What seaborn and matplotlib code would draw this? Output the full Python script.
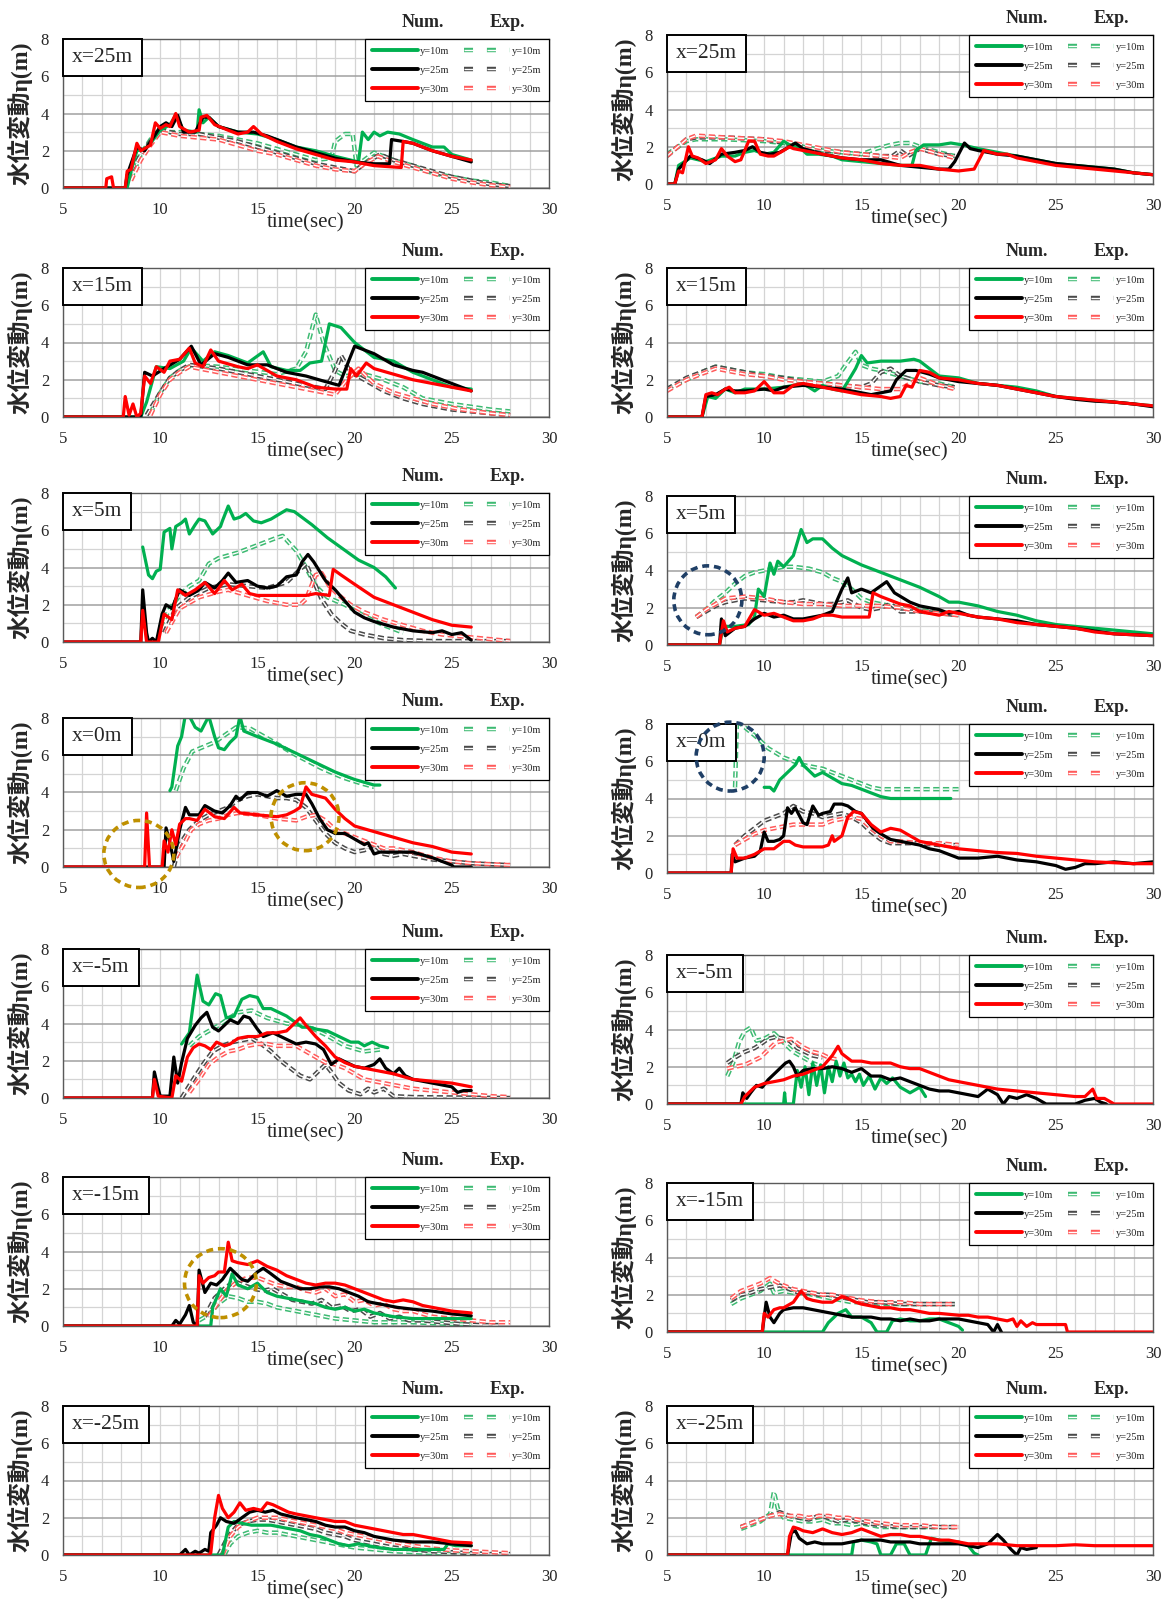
import pandas as pd
import seaborn as sns
import matplotlib.pyplot as plt
from matplotlib.lines import Line2D
from matplotlib.patches import Ellipse
from matplotlib.offsetbox import AnchoredText
from matplotlib.ticker import MultipleLocator

# ---- data: (time sec, water level m) ----
# left column, x=25m
L25_n10 = [(5,0),(8.3,0),(8.5,0.9),(8.8,2.0),(9.2,2.1),(9.5,2.4),(10,3.1),(10.5,3.4),(10.8,3.9),(11.2,3.1),(11.9,3.0),(12.0,4.2),(12.2,3.5),(12.5,3.8),(13,3.3),(14,3.0),(15,2.9),(16,2.6),(17,2.2),(18,2.0),(19,1.7),(20.2,1.4),(20.4,3.0),(20.7,2.6),(21,3.0),(21.3,2.8),(21.7,3.0),(22.3,2.9),(23,2.6),(24,2.2),(24.6,2.2),(25,1.8),(26,1.5)]
L25_n25 = [(5,0),(8.2,0),(8.3,0.7),(8.8,2.2),(9.2,2.0),(9.7,2.8),(10.0,3.3),(10.3,3.5),(10.6,3.3),(10.9,3.9),(11.2,3.0),(11.8,3.0),(12.2,3.8),(12.5,3.8),(13,3.3),(14,3.0),(14.8,3.0),(15.5,2.8),(16,2.6),(17,2.2),(18,1.9),(19,1.6),(20,1.4),(21,1.3),(21.8,1.3),(21.9,2.6),(22.5,2.5),(23,2.4),(24,2.0),(25,1.7),(26,1.4)]
L25_n30 = [(5,0),(7.2,0),(7.25,0.5),(7.5,0.6),(7.6,0),(8.2,0),(8.3,0.9),(8.5,1.0),(8.8,2.4),(9.0,2.0),(9.5,2.3),(9.75,3.5),(10.0,3.2),(10.3,3.4),(10.5,3.3),(10.8,4.0),(11.0,3.3),(11.5,3.0),(12.0,3.1),(12.1,3.8),(12.4,3.9),(12.8,3.4),(13.5,3.1),(14.0,2.9),(14.5,3.0),(14.8,3.3),(15.2,2.9),(16,2.5),(17,2.1),(18,1.8),(19,1.5),(20,1.4),(21,1.2),(22.4,1.1),(22.5,2.5),(23,2.4),(24,2.0),(25,1.7),(26,1.5)]
L25_e10 = [(8.5,0.5),(9,1.8),(9.5,2.6),(10,3.2),(10.5,3.0),(11,3.0),(12,2.9),(13,2.8),(14,2.6),(15,2.4),(16,2.1),(17,1.8),(18,1.5),(18.8,1.6),(19.0,2.5),(19.5,2.9),(19.9,2.9),(20.1,1.2),(21,1.9),(22,1.5),(23,1.2),(24,0.8),(25,0.6),(26,0.4),(27,0.3),(28,0.1)]
L25_e25 = [(8.3,0.5),(9,1.8),(9.5,2.5),(10,3.1),(11,2.9),(12,2.9),(13,2.7),(14,2.5),(15,2.2),(16,1.9),(17,1.6),(18,1.3),(19,1.1),(20,0.9),(20.5,1.3),(21.3,1.8),(22,1.5),(23,1.2),(24,0.9),(25,0.6),(26,0.4),(27,0.2),(28,0.1)]
L25_e30 = [(8.5,0.4),(9,1.5),(9.5,2.3),(10,3.0),(11,2.8),(12,2.7),(13,2.6),(14,2.3),(15,2.0),(16,1.8),(17,1.5),(18,1.2),(19,1.0),(20,0.9),(20.5,1.3),(21.2,1.7),(22,1.4),(23,1.1),(24,0.8),(25,0.5),(26,0.3),(27,0.15),(28,0.05)]

# right column, x=25m
R25_n10 = [(5,0),(5.4,0),(5.6,1.0),(6.2,1.4),(7,1.2),(7.8,1.5),(8.5,1.5),(9,1.7),(9.5,1.8),(10,1.6),(10.5,1.7),(11,2.3),(11.3,2.1),(11.8,2.0),(12.2,1.6),(12.8,1.6),(13.5,1.5),(14,1.3),(15,1.2),(16,1.1),(17,1.0),(17.6,1.0),(17.8,1.8),(18.2,2.1),(19,2.1),(19.6,2.2),(20.2,2.1),(21,1.9),(22,1.7),(23,1.5),(24,1.3),(25,1.1),(26,1.0),(27,0.9),(28,0.8),(29,0.6),(30,0.5)]
R25_n25 = [(5,0),(5.4,0),(5.6,0.8),(6.2,1.5),(6.8,1.3),(7.2,1.1),(7.8,1.6),(8.5,1.7),(9.0,1.8),(9.4,2.0),(9.8,1.7),(10.3,1.6),(10.8,1.7),(11.3,2.0),(11.6,2.2),(12,1.9),(13,1.6),(14,1.4),(15,1.3),(16,1.3),(17,1.0),(18,0.9),(19,0.8),(19.5,0.8),(19.8,1.2),(20.3,2.2),(20.6,1.9),(21,1.8),(22,1.6),(23,1.5),(24,1.3),(25,1.1),(26,1.0),(27,0.9),(28,0.8),(29,0.6),(30,0.5)]
R25_n30 = [(5,0),(5.4,0),(5.6,0.7),(5.8,0.6),(6.1,2.0),(6.3,1.5),(6.6,1.4),(7,1.1),(7.5,1.3),(7.8,1.9),(8.1,1.5),(8.5,1.2),(8.8,1.3),(9.2,2.3),(9.5,2.3),(9.8,1.6),(10.2,1.5),(10.5,1.5),(11,1.8),(11.3,2.0),(11.5,1.9),(12,1.8),(13,1.6),(14,1.4),(15,1.3),(16,1.1),(17,1.0),(18,1.0),(19,0.8),(20,0.7),(20.8,0.8),(21.0,1.2),(21.3,1.8),(22,1.6),(22.5,1.6),(23,1.4),(24,1.2),(25,1.0),(26,0.9),(27,0.8),(28,0.7),(29,0.6),(30,0.5)]
R25_e10 = [(5,1.6),(6,2.3),(6.5,2.4),(8,2.4),(10,2.3),(11,2.2),(12,2.0),(13,1.8),(14,1.7),(15,1.6),(15.8,1.9),(16.5,2.1),(17,2.2),(17.5,2.2),(18,2.0),(19,1.7),(19.8,1.5)]
R25_e25 = [(5,1.5),(6,2.4),(6.5,2.5),(8,2.5),(10,2.4),(11,2.2),(12,2.0),(13,1.8),(14,1.7),(15,1.6),(16,1.5),(16.6,1.5),(17,1.8),(17.4,1.5),(18,1.9),(19,1.6),(19.8,1.5)]
R25_e30 = [(5,1.5),(6,2.4),(6.5,2.6),(8,2.5),(10,2.4),(11,2.3),(12,2.1),(13,1.9),(14,1.7),(15,1.6),(16,1.5),(17,1.4),(17.5,1.7),(18,1.9),(19,1.6),(19.8,1.4)]

# left, x=15m
L15_n10 = [(5,0),(9.0,0),(9.3,0.8),(9.8,2.7),(10.5,2.6),(11.2,3.0),(11.6,3.7),(12.2,3.0),(12.8,3.5),(13.5,3.3),(14.5,2.9),(15.3,3.5),(15.7,2.7),(16.5,2.5),(17.2,2.5),(17.7,2.9),(18.3,3.0),(18.7,5.0),(19.3,4.8),(20,4.0),(21,3.2),(22,3.0),(23,2.4),(24,2.0),(25,1.6),(26,1.5)]
L15_n25 = [(5,0),(9.0,0),(9.2,2.4),(9.6,2.2),(10.2,2.6),(11,3.1),(11.6,3.8),(12.1,2.8),(12.8,3.4),(13.5,3.2),(14.5,2.8),(15.5,2.8),(16.5,2.4),(17.5,2.2),(18.5,1.9),(19.2,1.7),(20,3.8),(21,3.4),(22,2.8),(23,2.5),(23.5,2.4),(24.5,2.0),(25.5,1.6),(26,1.4)]
L15_n30 = [(5,0),(8.1,0),(8.2,1.1),(8.4,0.1),(8.6,0.7),(8.8,0),(9.0,0.2),(9.2,2.2),(9.5,1.8),(9.8,2.7),(10.2,2.4),(10.5,3.0),(11.0,3.1),(11.5,3.7),(11.8,2.9),(12.2,2.7),(12.6,3.6),(13,3.0),(14,2.7),(14.5,2.6),(15,2.8),(15.5,2.5),(16,2.2),(17,2.0),(18,1.6),(19,1.5),(19.6,1.5),(19.8,2.6),(20.1,2.2),(20.6,2.9),(21,2.6),(22,2.3),(23,2.0),(24,1.8),(25,1.6),(26,1.4)]
L15_e10 = [(9.5,0.2),(10,1.3),(10.5,2.1),(11,2.5),(11.7,2.8),(13,2.7),(14.5,2.5),(16,2.3),(17,2.6),(17.5,3.5),(18.0,5.5),(18.4,4.0),(19,2.5),(19.5,2.2),(20.5,2.3),(21.5,2.0),(22.5,1.6),(23.5,1.0),(25,0.7),(27,0.4),(28,0.3)]
L15_e25 = [(9.3,0.1),(10,1.3),(10.5,2.1),(11,2.5),(11.5,2.8),(13,2.6),(14.5,2.3),(16,2.0),(17.5,1.7),(18.5,1.5),(19.0,2.5),(19.3,3.3),(19.8,2.4),(20.5,2.0),(21.5,1.4),(22.5,1.0),(23.5,0.7),(25,0.4),(27,0.2),(28,0.1)]
L15_e30 = [(9.5,0.1),(10,1.2),(10.5,2.0),(11,2.4),(11.5,2.7),(13,2.4),(14.5,2.1),(16,1.8),(17.5,1.5),(19,1.2),(19.6,2.0),(20.2,2.6),(21,1.8),(22,1.3),(23,1.0),(24,0.7),(25.5,0.4),(27,0.2),(28,0.1)]

# right, x=15m
R15_n10 = [(5,0),(6.8,0),(7.1,1.1),(7.5,1.0),(8,1.5),(8.5,1.3),(9,1.5),(10,1.5),(11,1.6),(12,1.8),(12.6,1.4),(13,1.7),(13.5,1.5),(14,1.4),(14.3,1.9),(14.7,2.6),(15,3.3),(15.3,2.9),(16,3.0),(17,3.0),(17.7,3.1),(18,3.0),(19,2.2),(20,2.1),(21,1.8),(22,1.7),(23,1.6),(24,1.4),(25,1.1),(26,1.0),(27,0.9),(28,0.8),(29,0.7),(30,0.6)]
R15_n25 = [(5,0),(6.8,0),(7.0,1.1),(7.5,1.2),(8,1.5),(8.5,1.4),(9,1.4),(10,1.5),(10.5,1.4),(11,1.6),(12,1.7),(13,1.6),(14,1.5),(15,1.3),(15.5,1.2),(16,1.3),(16.5,1.4),(16.8,2.0),(17.3,2.5),(17.8,2.5),(18.5,2.3),(19,2.1),(20,1.9),(21,1.8),(22,1.7),(23,1.5),(24,1.3),(25,1.1),(26,0.95),(27,0.85),(28,0.8),(29,0.7),(30,0.55)]
R15_n30 = [(5,0),(6.8,0),(7.0,1.2),(7.3,1.3),(7.6,1.2),(8,1.5),(8.2,1.6),(8.5,1.3),(9,1.3),(9.5,1.4),(10,1.9),(10.5,1.3),(11,1.3),(11.5,1.7),(12,1.8),(13,1.6),(14,1.4),(15,1.2),(16,1.1),(16.5,1.0),(17,1.1),(17.3,1.7),(17.6,1.6),(18,2.5),(18.5,2.4),(19,2.1),(20,2.0),(21,1.8),(22,1.7),(23,1.5),(24,1.3),(25,1.1),(26,1.0),(27,0.9),(28,0.8),(29,0.7),(30,0.6)]
R15_e10 = [(5,1.5),(6,2.0),(7,2.5),(7.5,2.7),(9,2.4),(10,2.3),(11,2.1),(12,2.0),(13,1.9),(13.8,2.2),(14.2,2.8),(14.7,3.5),(15,2.8),(15.5,2.6),(16,2.5),(17,2.2),(18,1.9),(19,1.8),(19.8,1.6)]
R15_e25 = [(5,1.5),(6,2.1),(7,2.5),(7.5,2.7),(9,2.4),(10,2.2),(11,2.1),(12,1.9),(13,1.8),(14,1.7),(15,1.6),(15.5,1.8),(16,2.4),(16.5,2.6),(17,2.2),(18,1.9),(19,1.7),(19.8,1.6)]
R15_e30 = [(5,1.4),(6,2.0),(7,2.4),(7.5,2.6),(9,2.3),(10,2.2),(11,2.0),(12,1.9),(13,1.8),(14,1.7),(15,1.6),(16,1.5),(17,1.5),(17.5,1.8),(18,2.1),(18.5,1.9),(19,1.7),(19.8,1.5)]

# left, x=5m
L5_n10 = [(9.1,5.1),(9.4,3.6),(9.6,3.4),(9.8,3.8),(10.0,3.9),(10.2,5.9),(10.5,6.1),(10.6,5.0),(10.8,6.2),(11.1,6.4),(11.3,6.6),(11.5,5.8),(11.8,6.3),(12.0,6.6),(12.3,6.5),(12.7,5.8),(13.1,6.2),(13.2,6.5),(13.5,7.3),(13.8,6.6),(14.1,6.7),(14.4,6.9),(14.8,6.5),(15.2,6.4),(15.7,6.6),(16.5,7.1),(16.9,7.0),(17.8,6.3),(18.6,5.6),(19.4,5.0),(20.2,4.4),(21.0,4.0),(21.6,3.5),(22.1,2.9)]
L5_n25 = [(5,0),(9.0,0),(9.1,2.8),(9.3,0.5),(9.4,0),(9.6,0.2),(9.8,0),(10.1,1.5),(10.3,2.0),(10.6,1.8),(11,2.8),(11.5,2.5),(12,2.8),(12.3,3.2),(12.8,2.9),(13.2,3.3),(13.5,3.7),(13.9,3.2),(14.5,3.3),(15,3.0),(15.5,2.9),(16,3.0),(16.5,3.5),(17,3.6),(17.3,4.3),(17.6,4.7),(17.9,4.3),(18.5,3.3),(19,2.8),(19.5,2.2),(20,1.6),(20.5,1.3),(21,1.1),(22,0.8),(23,0.6),(24,0.5),(24.5,0.6),(25,0.4),(25.5,0.5),(26,0.1)]
L5_n30 = [(5,0),(9.0,0),(9.1,1.7),(9.3,0),(9.9,0),(10.2,1.5),(10.6,1.2),(10.9,2.8),(11.3,2.5),(11.8,2.8),(12.3,3.2),(12.8,2.6),(13.3,3.3),(13.7,2.8),(14.2,3.1),(14.6,2.6),(15,2.5),(15.5,2.5),(16.5,2.5),(17.5,2.5),(18,2.6),(18.7,2.5),(18.9,3.9),(19.3,3.6),(20,3.1),(21,2.4),(22,2.0),(23,1.6),(24,1.2),(25,0.9),(26,0.8)]
L5_e10 = [(10,0.8),(10.5,1.8),(11,2.5),(11.5,3.0),(12,3.3),(12.5,4.2),(13,4.5),(14,4.8),(15,5.2),(16,5.6),(16.3,5.7),(17,4.9),(17.5,4.0),(18,3.0),(18.6,2.4),(19.5,2.0),(20.5,1.4),(21.5,0.9),(22.5,0.5)]
L5_e25 = [(10.2,0.5),(10.8,1.8),(11.5,2.4),(12.5,2.9),(13.5,3.1),(14.5,3.0),(15.5,2.9),(16.5,3.2),(17.2,3.9),(17.5,4.2),(17.8,3.5),(18.3,2.3),(18.8,1.5),(19.3,1.0),(19.8,0.6),(20.5,0.4),(21.5,0.2),(22.5,0.1),(24,0.05),(26,0.05),(28,0.05)]
L5_e30 = [(10.3,0.5),(11,1.8),(12,2.4),(13,2.7),(13.5,2.8),(14.5,2.5),(15.5,2.2),(16.5,2.0),(17.2,2.0),(17.5,2.3),(18,3.6),(18.3,3.7),(18.7,3.0),(19.2,2.5),(19.8,2.0),(20.5,1.6),(21.5,1.2),(22.5,0.9),(23.5,0.6),(24.5,0.4),(25.5,0.3),(26.5,0.2),(27.5,0.1),(28,0.05)]

# right, x=5m
R5_n10 = [(5,0),(7.7,0),(7.9,1.0),(8.5,1.0),(9.2,1.1),(9.5,1.5),(9.7,3.0),(10.0,2.6),(10.3,4.4),(10.5,3.8),(10.7,4.5),(11,4.2),(11.5,4.8),(11.9,6.2),(12.2,5.5),(12.5,5.7),(13,5.7),(13.5,5.2),(14,4.8),(15,4.3),(16,3.9),(17,3.5),(18,3.1),(19,2.6),(19.5,2.3),(20,2.3),(21,2.1),(22,1.8),(23,1.6),(24,1.3),(25,1.1),(26,1.0),(27,0.9),(28,0.8),(29,0.7),(30,0.6)]
R5_n25 = [(5,0),(7.7,0),(7.8,1.4),(8.0,0.5),(8.5,0.9),(9,1.0),(9.5,1.4),(10,1.7),(10.5,1.5),(11,1.6),(11.5,1.4),(12,1.4),(12.5,1.5),(13,1.6),(13.5,1.8),(14,3.0),(14.3,3.6),(14.5,2.8),(15,3.0),(15.5,2.8),(16.3,3.4),(16.7,2.8),(17.5,2.3),(18,2.1),(19,1.9),(19.5,1.7),(20,1.8),(20.5,1.6),(21,1.5),(22,1.4),(23,1.3),(24,1.1),(25,1.0),(26,0.9),(27,0.75),(28,0.6),(29,0.55),(30,0.5)]
R5_n30 = [(5,0),(7.7,0),(7.9,1.3),(8.1,0.7),(8.5,0.9),(9.0,1.0),(9.5,1.9),(10,1.6),(10.5,1.7),(11,1.5),(11.5,1.3),(12,1.3),(12.5,1.4),(13,1.6),(13.5,1.6),(14,1.5),(15,1.5),(15.4,1.5),(15.6,2.8),(16,2.6),(16.5,2.4),(17,2.2),(17.5,2.1),(18,1.8),(19,1.6),(19.5,1.8),(20,1.7),(21,1.5),(22,1.4),(23,1.2),(24,1.1),(25,1.0),(26,0.9),(27,0.7),(28,0.6),(29,0.55),(30,0.5)]
R5_e10 = [(6.5,1.5),(7,1.9),(7.5,2.4),(8,2.8),(8.5,3.3),(9,3.7),(9.5,3.9),(10,4.0),(10.5,4.1),(11,4.2),(11.5,4.2),(12.3,4.1),(13,3.9),(13.5,3.6),(14,3.4),(14.5,3.0),(15,2.5),(15.5,2.3),(16,2.2),(17,2.0),(18,1.9),(19,1.7),(20,1.6)]
R5_e25 = [(6.5,1.5),(7,1.8),(7.5,2.1),(8,2.3),(8.5,2.4),(9,2.5),(10,2.4),(11,2.3),(11.5,2.3),(12,2.4),(12.5,2.3),(13,2.2),(13.5,2.2),(14,2.3),(14.3,2.4),(15,2.0),(15.5,1.9),(16,2.0),(16.5,2.2),(17,1.8),(18,1.8),(19,1.7),(20,1.6)]
R5_e30 = [(6.5,1.5),(7,1.9),(7.5,2.2),(8,2.5),(9,2.6),(10,2.5),(11,2.3),(12,2.2),(13,2.2),(14,2.1),(15,2.1),(16,2.1),(17,2.0),(18,1.8),(19,1.7),(20,1.6)]

# left, x=0m
L0_n10 = [(10.5,4.1),(10.6,4.3),(10.9,6.5),(11.1,7.0),(11.3,8.2),(11.5,8.1),(11.8,7.5),(12.1,7.3),(12.5,8.1),(12.8,7.0),(13.0,6.4),(13.3,6.3),(13.6,6.7),(13.9,7.0),(14.1,8.1),(14.3,7.3),(15,7.0),(16,6.6),(17,6.1),(18,5.6),(19,5.1),(20,4.7),(21,4.4),(21.3,4.4)]
L0_n25 = [(5,0),(10.2,0),(10.3,2.1),(10.5,1.3),(10.7,0.3),(11.0,2.0),(11.2,2.8),(11.3,3.2),(11.5,2.8),(12,2.8),(12.3,3.3),(12.8,3.0),(13.2,2.9),(13.6,3.3),(13.9,3.8),(14.1,3.6),(14.5,4.0),(15,4.0),(15.5,3.8),(16,4.1),(16.5,3.8),(17,3.9),(17.5,3.9),(17.8,3.4),(18.2,2.6),(18.6,2.0),(19,1.8),(19.5,1.8),(20,1.5),(20.5,1.2),(20.7,1.3),(21,0.7),(21.3,0.8),(22,0.8),(22.5,0.8),(23,0.8),(24,0.5),(24.5,0.3),(25,0.1),(25.1,0.0),(26,0.0)]
L0_n30 = [(5,0),(9.2,0),(9.3,2.9),(9.45,0),(10.1,0),(10.2,1.4),(10.4,0.8),(10.6,2.0),(10.8,1.2),(11.0,2.3),(11.3,2.6),(11.5,2.6),(11.9,2.5),(12.3,3.1),(12.8,2.7),(13.3,2.6),(13.8,3.2),(14.1,2.9),(15,2.8),(16,2.7),(16.5,2.8),(16.9,3.0),(17.2,3.2),(17.5,4.3),(17.8,3.9),(18.5,3.7),(19,3.1),(19.5,2.6),(20,2.2),(21,1.9),(22,1.6),(23,1.3),(24,1.1),(25,0.8),(26,0.7)]
L0_e10 = [(10.8,4.1),(11.2,5.3),(11.65,6.2),(12.8,6.7),(13.9,7.5),(14.6,7.45),(15.7,6.8),(17,6.0),(18.3,5.3),(19.4,4.8),(20.3,4.5),(21,4.3)]
L0_e25 = [(10.7,0.0),(11,1.2),(11.5,2.0),(12,2.5),(12.5,2.8),(13,3.0),(13.5,3.2),(14,3.6),(14.5,3.8),(15,3.9),(15.5,3.8),(16,3.7),(16.5,3.7),(17,3.6),(17.5,3.2),(18,2.5),(18.5,1.8),(19,1.3),(19.5,1.0),(20,0.8),(20.5,0.9),(21,1.2),(21.5,0.7),(22,0.6),(22.5,0.7),(23,0.6),(24,0.4),(25,0.3),(26,0.2),(27,0.15),(28,0.1)]
L0_e30 = [(10.8,0.5),(11.2,1.2),(11.6,2.0),(12,2.3),(12.5,2.5),(13,2.6),(13.5,2.8),(14,2.9),(15,2.8),(16,2.6),(17,2.5),(17.5,2.7),(18,2.8),(18.5,2.5),(19,2.0),(19.5,1.8),(20,1.6),(21,1.2),(21.5,1.0),(22,1.0),(22.5,0.9),(23,0.8),(24,0.5),(25,0.3),(26,0.2),(27,0.15),(28,0.1)]

# right, x=0m
R0_n10 = [(10,4.6),(10.3,4.6),(10.5,4.4),(10.8,5.0),(11,5.2),(11.3,5.5),(11.6,5.8),(11.8,6.2),(12.0,5.8),(12.3,5.5),(12.6,5.2),(13,5.4),(13.5,5.1),(14,4.8),(14.5,4.7),(15,4.5),(15.5,4.3),(16,4.1),(16.5,4.0),(17,4.0),(18,4.0),(19,4.0),(19.6,4.0)]
R0_n25 = [(5,0),(8.3,0),(8.35,1.0),(8.5,0.6),(9,0.8),(9.5,0.9),(9.8,1.2),(10,2.2),(10.2,1.7),(10.5,1.7),(10.8,1.8),(11.0,2.0),(11.2,3.5),(11.4,3.2),(11.6,3.5),(11.8,3.1),(12.0,2.7),(12.2,2.6),(12.5,3.6),(12.8,3.1),(13,3.2),(13.4,3.3),(13.6,3.7),(14,3.7),(14.3,3.6),(14.7,3.3),(15,3.2),(15.3,2.8),(15.6,2.4),(16,2.1),(16.5,1.8),(17,1.7),(17.5,1.6),(18,1.5),(18.5,1.3),(19,1.2),(19.5,1.0),(20,0.8),(21,0.8),(22,0.9),(23,0.7),(24,0.6),(25,0.4),(25.5,0.2),(26,0.3),(26.5,0.5),(27,0.5),(28,0.6),(29,0.5),(30,0.6)]
R0_n30 = [(5,0),(8.3,0),(8.4,1.3),(8.6,0.8),(9,0.8),(9.5,1.0),(10,1.3),(10.5,1.3),(11,1.7),(11.3,1.7),(11.6,1.5),(12,1.4),(12.5,1.4),(13,1.4),(13.3,1.5),(13.5,2.0),(13.6,1.7),(14,2.0),(14.3,3.0),(14.6,3.3),(15,3.2),(15.5,2.6),(16,2.2),(16.5,2.4),(17,2.3),(17.5,2.0),(18,1.7),(18.5,1.6),(19,1.5),(20,1.3),(21,1.2),(22,1.1),(23,1.05),(24,0.9),(25,0.8),(26,0.7),(27,0.6),(28,0.55),(29,0.5),(30,0.5)]
R0_e10 = [(8.5,4.6),(8.6,8.2),(8.8,8.0),(9.6,7.3),(10.2,6.7),(11,6.2),(12,5.8),(13,5.6),(14,5.2),(15,4.8),(15.5,4.6),(16,4.5),(20,4.5)]
R0_e25 = [(8.5,1.5),(9,2.0),(9.5,2.4),(10,2.8),(10.5,3.0),(11,3.2),(11.5,3.6),(12,3.3),(12.5,3.2),(13,3.0),(13.5,3.1),(14,3.2),(14.5,3.0),(15,2.7),(15.5,2.2),(16,1.8),(16.5,1.6),(17,1.6),(18,1.6),(19,1.5),(20,1.5)]
R0_e30 = [(8.5,1.5),(9,1.8),(9.5,2.1),(10,2.3),(10.5,2.4),(11,2.5),(11.5,2.6),(12,2.6),(12.5,2.6),(13,2.6),(13.5,2.8),(14,2.9),(14.5,3.0),(15,2.9),(15.5,2.4),(16,2.0),(16.5,1.7),(17,1.7),(18,1.6),(19,1.6),(20,1.5)]

# left, x=-5m
Lm5_n10 = [(11.1,2.9),(11.5,3.5),(11.9,6.6),(12.2,5.2),(12.5,5.0),(12.85,5.6),(13.1,5.5),(13.4,4.3),(13.8,4.4),(14.2,5.3),(14.6,5.5),(15,5.4),(15.3,4.8),(15.7,4.8),(16.1,4.6),(16.5,4.4),(16.9,4.1),(17.3,3.8),(17.7,3.8),(18.0,3.7),(18.6,3.6),(19.2,3.3),(19.8,3.0),(20.2,3.0),(20.5,2.8),(20.9,3.0),(21.3,2.8),(21.7,2.7)]
Lm5_n25 = [(5,0),(9.6,0),(9.7,1.4),(9.9,0.5),(10,0.1),(10.5,0.1),(10.7,2.2),(10.9,0.8),(11.1,1.9),(11.4,3.2),(11.8,3.9),(12.1,4.3),(12.4,4.6),(12.7,3.8),(13,3.6),(13.3,3.9),(13.6,4.2),(14,4.0),(14.3,4.4),(14.6,4.3),(15,3.7),(15.3,3.3),(15.8,3.5),(16.2,3.3),(16.6,3.1),(17,2.9),(17.5,3.0),(18,2.9),(18.4,2.6),(18.8,1.8),(19.2,2.1),(19.6,1.9),(20,1.7),(20.5,1.6),(21,1.8),(21.3,2.1),(21.6,1.6),(22,1.3),(22.3,1.6),(22.6,1.2),(23,1.0),(24,0.8),(25,0.6),(25.3,0.3),(25.6,0.4),(26,0.4)]
Lm5_n30 = [(5,0),(9.6,0),(9.7,1.0),(9.9,0.1),(10.6,0),(10.8,1.2),(11.1,0.9),(11.4,2.2),(11.7,2.7),(12,2.9),(12.3,2.8),(12.6,2.6),(12.9,3.0),(13.3,2.8),(13.6,2.9),(14,3.2),(14.5,3.3),(15,3.3),(15.5,3.5),(16,3.5),(16.5,3.6),(17.0,4.1),(17.2,4.3),(17.5,3.9),(18,3.3),(18.5,2.8),(19,2.2),(19.5,1.9),(20,1.7),(21,1.5),(22,1.3),(23,1.0),(24,0.9),(25,0.8),(26,0.6)]
Lm5_e10 = [(11.5,2.8),(12,3.3),(13,3.9),(14,4.6),(14.7,4.7),(15.5,4.3),(16.5,4.0),(17.5,3.9),(18.5,3.4),(19.5,2.8),(20.5,2.5),(21.3,2.6)]
Lm5_e25 = [(11.1,0.0),(11.7,1.0),(12.2,1.8),(12.7,2.5),(13.2,2.8),(13.7,3.0),(14.2,3.1),(14.7,3.2),(15.2,2.9),(15.7,2.5),(16.2,2.0),(16.7,1.6),(17.2,1.2),(17.7,1.0),(18,1.3),(18.5,1.8),(18.8,1.4),(19.2,0.8),(19.7,0.4),(20.3,0.2),(20.7,0.5),(21,0.3),(21.5,0.5),(22,0.1),(23,0.05),(28,0.0)]
Lm5_e30 = [(11.5,0.3),(12,1.0),(12.5,1.8),(13,2.2),(13.5,2.5),(14,2.6),(14.5,2.8),(15,2.9),(15.5,2.9),(16,2.8),(17,2.8),(17.5,2.5),(18,2.2),(18.5,1.9),(19,1.8),(19.5,1.6),(20,1.3),(20.5,1.0),(21,0.9),(21.5,0.8),(22,0.7),(23,0.5),(24,0.4),(25,0.3),(26,0.2),(27,0.1),(28,0.05)]

# right, x=-5m
Rm5_n10 = [(5,0),(11.0,0),(11.05,0.6),(11.1,0),(11.5,0),(11.7,1.8),(11.9,0.9),(12.1,2.0),(12.3,0.5),(12.5,2.2),(12.7,1.0),(12.9,2.1),(13.1,0.6),(13.3,2.0),(13.5,1.2),(13.7,2.3),(13.9,1.5),(14.1,2.2),(14.3,1.4),(14.5,1.6),(14.7,1.2),(14.9,1.6),(15.1,1.0),(15.4,1.5),(15.7,0.8),(16,1.4),(16.3,1.1),(16.6,1.4),(17,0.9),(17.5,0.6),(18,0.9),(18.3,0.4)]
Rm5_n25 = [(5,0),(8.8,0),(8.9,0.6),(9.1,0.3),(9.3,0.6),(9.6,1.0),(9.9,0.9),(10.2,1.3),(10.5,1.6),(10.8,1.9),(11.1,2.2),(11.3,2.3),(11.5,2.0),(11.7,1.5),(12,1.8),(12.5,1.9),(13,1.9),(13.5,2.0),(14,1.9),(14.5,1.7),(15,1.9),(15.5,1.5),(16,1.5),(16.5,1.3),(17,1.4),(17.5,1.2),(18,1.0),(18.5,0.8),(19,0.7),(19.5,0.7),(20,0.6),(20.5,0.5),(21,0.4),(21.5,0.8),(22,0.5),(22.3,0.0),(22.6,0.4),(23,0.3),(23.5,0.5),(24,0.3),(24.5,0.0),(26,0.0),(26.5,0.2),(27,0.3),(27.3,0.1),(27.6,0.0)]
Rm5_n30 = [(5,0),(8.8,0),(9,0.4),(9.5,0.9),(10,1.1),(10.5,1.2),(11,1.3),(11.5,1.5),(12,1.6),(12.5,1.8),(13,2.0),(13.5,2.6),(13.8,3.1),(14,2.7),(14.5,2.3),(15,2.3),(15.5,2.2),(16,2.2),(16.5,2.2),(17,2.0),(17.5,1.9),(18,1.9),(18.5,1.7),(19,1.5),(19.5,1.3),(20,1.2),(20.5,1.1),(21,1.0),(21.5,0.9),(22,0.8),(23,0.7),(24,0.6),(25,0.5),(26,0.4),(26.5,0.4),(26.9,0.8),(27.1,0.3),(27.5,0.3),(28,0.0),(30,0.0)]
Rm5_e10 = [(8.1,1.5),(8.4,2.2),(8.7,3.3),(9.0,3.9),(9.3,4.1),(9.6,3.4),(10.0,3.5),(10.5,3.8),(11.0,3.3),(11.5,2.8),(12.0,2.5),(12.5,2.2),(13.0,2.0)]
Rm5_e25 = [(8.1,2.2),(8.5,2.5),(9.0,2.8),(9.5,3.0),(9.8,3.2),(10.2,3.5),(10.6,3.6),(11.0,3.5),(11.3,3.4),(11.7,3.0),(12.1,2.8),(12.5,2.6),(13.0,2.5)]
Rm5_e30 = [(8.1,1.9),(8.5,2.0),(9.0,2.1),(9.4,2.3),(9.8,2.5),(10.2,2.9),(10.6,3.3),(11.0,3.4),(11.4,3.5),(11.8,3.2),(12.1,3.0),(12.5,2.8),(12.9,2.7),(13.3,2.5),(13.7,2.4)]

# left, x=-15m
Lm15_n10 = [(5,0),(12.6,0),(12.7,1.0),(12.9,1.5),(13.1,2.0),(13.4,1.6),(13.7,2.8),(14,2.2),(14.5,2.0),(15,2.3),(15.5,1.8),(16,1.6),(16.5,1.5),(17,1.4),(17.5,1.3),(18,1.2),(18.5,1.0),(19,0.9),(19.5,1.0),(20,0.8),(20.5,0.9),(21,0.7),(22,0.5),(23,0.4),(24,0.4),(25,0.4),(26,0.4)]
Lm15_n25 = [(5,0),(10.6,0),(10.8,0.3),(11.0,0.1),(11.3,0.6),(11.5,1.1),(11.7,0.2),(11.9,0.0),(12.0,3.0),(12.3,1.8),(12.6,2.3),(12.9,2.2),(13.2,2.5),(13.6,3.1),(13.9,2.8),(14.2,2.5),(14.5,2.4),(15,2.9),(15.3,3.1),(15.7,2.8),(16.2,2.4),(16.7,2.2),(17.2,2.0),(17.7,2.0),(18.2,2.1),(18.7,2.1),(19.2,2.0),(19.7,1.8),(20.2,1.6),(20.7,1.3),(21.2,1.2),(21.7,1.1),(22.2,1.0),(23,0.9),(24,0.8),(25,0.65),(26,0.55)]
Lm15_n30 = [(5,0),(11.9,0),(12.0,2.7),(12.2,2.3),(12.5,2.6),(12.8,2.7),(13.0,2.9),(13.3,2.9),(13.5,4.5),(13.7,3.5),(14,3.4),(14.5,3.3),(15,3.5),(15.5,3.2),(16,3.0),(16.5,2.7),(17,2.5),(17.5,2.3),(18,2.2),(18.5,2.3),(19,2.3),(19.5,2.2),(20,2.0),(20.5,1.8),(21,1.6),(21.5,1.4),(22,1.3),(22.5,1.4),(23,1.3),(23.5,1.1),(24,1.0),(24.5,0.9),(25,0.8),(25.5,0.75),(26,0.7)]
Lm15_e10 = [(12.0,0.3),(12.5,0.6),(13,1.2),(13.5,1.6),(14,1.5),(14.5,1.3),(15,1.3),(15.5,1.2),(16,1.0),(16.5,0.9),(17,0.8),(17.5,0.7),(18,0.6),(18.5,0.5),(19,0.4),(19.5,0.35),(20,0.3),(21,0.2),(22,0.2),(23,0.2),(24,0.15),(25,0.1),(26,0.1)]
Lm15_e25 = [(12.3,0.5),(12.8,1.5),(13.3,2.0),(13.8,2.4),(14.3,2.2),(14.8,2.0),(15.3,1.9),(15.8,2.0),(16.3,1.7),(16.8,1.4),(17.3,1.3),(17.8,1.2),(18.3,1.4),(18.8,1.0),(19.3,1.1),(19.8,0.8),(20.3,0.9),(20.8,0.5),(21.3,0.7),(21.8,0.4),(22.3,0.5),(22.8,0.3),(23.5,0.3),(24.5,0.2),(25.5,0.1),(26.5,0.05),(27.5,0.05)]
Lm15_e30 = [(12.5,0.5),(13,1.3),(13.5,2.0),(14,2.4),(14.5,2.6),(15,2.6),(15.5,2.4),(16,2.2),(16.5,2.1),(17,2.1),(17.5,1.9),(18,1.8),(18.5,2.0),(19,1.6),(19.5,1.7),(20,1.3),(20.5,1.4),(21,1.1),(21.5,1.2),(22,0.9),(22.5,0.8),(23,0.8),(24,0.5),(25,0.4),(26,0.3),(27,0.2),(28,0.2)]

# right, x=-15m
Rm15_n10 = [(5,0),(13.0,0),(13.3,0.5),(13.8,1.0),(14.2,1.2),(14.5,0.8),(15,0.8),(15.5,0.5),(15.8,0.0),(16.3,0.0),(16.6,0.6),(17,0.7),(17.5,0.6),(18,0.6),(18.5,0.7),(19,0.7),(19.5,0.5),(20,0.3),(20.2,0.1)]
Rm15_n25 = [(5,0),(9.9,0),(10.1,1.6),(10.3,0.8),(10.5,0.5),(10.8,1.0),(11,1.2),(11.5,1.3),(12,1.3),(12.5,1.2),(13,1.1),(13.5,1.0),(14,0.9),(14.5,0.8),(15,0.8),(15.5,0.8),(16,0.7),(16.5,0.7),(17,0.6),(17.5,0.7),(18,0.6),(18.5,0.6),(19,0.7),(19.5,0.7),(20,0.7),(20.5,0.6),(21,0.5),(21.5,0.4),(21.8,0.0),(22.0,0.4),(22.2,0.0)]
Rm15_n30 = [(5,0),(9.9,0),(10.0,1.0),(10.2,0.8),(10.5,1.2),(10.8,1.3),(11,1.3),(11.5,1.6),(11.9,2.2),(12.2,1.8),(12.5,1.7),(13,1.6),(13.5,1.6),(14,1.9),(14.3,1.8),(14.7,1.6),(15,1.5),(15.5,1.4),(16,1.3),(16.5,1.3),(17,1.2),(17.5,1.2),(18,1.1),(18.5,1.0),(19,1.0),(19.5,0.95),(20,0.9),(20.5,0.9),(21,0.8),(21.5,0.8),(22,0.7),(22.5,0.6),(22.8,0.7),(23.0,0.3),(23.2,0.6),(23.5,0.3),(23.8,0.5),(24,0.4),(24.5,0.4),(25.5,0.4),(25.6,0.0),(30,0.0)]
Rm15_e10 = [(8.3,1.5),(8.8,1.8),(9.3,2.0),(9.8,2.2),(10.3,2.6),(10.5,2.1),(11,2.2),(11.5,2.1),(12,2.1),(12.5,2.0),(13,1.9),(13.5,1.8),(14,1.7),(14.5,1.6),(15,1.6),(16,1.5),(17,1.5),(18,1.5),(19,1.5),(19.8,1.5)]
Rm15_e25 = [(8.3,1.7),(8.8,2.0),(9.3,2.1),(9.8,2.3),(10.3,2.4),(10.8,2.5),(11.3,2.3),(11.8,2.1),(12.3,2.1),(12.8,2.0),(13.3,2.0),(13.8,1.9),(14.3,1.8),(14.8,1.7),(15.3,1.6),(16,1.6),(17,1.5),(18,1.5),(19,1.5),(19.8,1.5)]
Rm15_e30 = [(8.3,1.8),(8.8,2.2),(9.3,2.4),(9.8,2.6),(10.3,2.9),(10.6,2.7),(11,2.5),(11.5,2.3),(12,2.2),(12.5,2.1),(13,2.0),(13.5,2.0),(14,1.9),(14.5,1.8),(15,1.7),(16,1.6),(17,1.6),(18,1.5),(19,1.5),(19.8,1.5)]

# left, x=-25m
Lm25_n10 = [(5,0),(13.2,0),(13.3,0.5),(13.5,1.5),(13.8,1.8),(14.2,1.7),(14.7,1.6),(15.2,1.6),(15.7,1.6),(16.2,1.5),(16.7,1.4),(17.2,1.3),(17.7,1.1),(18.2,1.0),(18.7,0.8),(19.2,0.6),(19.7,0.5),(20.2,0.6),(20.7,0.5),(21.2,0.4),(22,0.3),(23,0.3),(24,0.3),(24.6,0.3),(24.8,0.6),(25.2,0.5),(26,0.5)]
Lm25_n25 = [(5,0),(11.0,0),(11.3,0.3),(11.5,0.0),(11.8,0.2),(12,0.1),(12.3,0.3),(12.5,0.2),(12.6,1.2),(12.9,1.6),(13.1,2.0),(13.4,1.8),(13.8,1.7),(14.2,2.0),(14.6,2.3),(15,2.4),(15.4,2.3),(15.8,2.4),(16.2,2.2),(16.6,2.1),(17,2.0),(17.5,1.9),(18,1.8),(18.5,1.6),(19,1.5),(19.5,1.5),(20,1.3),(20.5,1.2),(21,1.0),(21.5,0.9),(22,0.8),(23,0.7),(24,0.7),(25,0.6),(26,0.5)]
Lm25_n30 = [(5,0),(12.5,0),(12.6,0.1),(12.8,2.0),(13.0,3.2),(13.2,2.5),(13.5,2.0),(13.8,2.3),(14.1,2.8),(14.4,2.4),(14.8,2.5),(15.2,2.4),(15.5,2.8),(15.8,2.7),(16.2,2.5),(16.6,2.3),(17,2.2),(17.5,2.1),(18,2.0),(18.5,1.9),(19,1.8),(19.5,1.8),(20,1.6),(20.5,1.5),(21,1.4),(21.5,1.3),(22,1.2),(22.5,1.1),(23,1.1),(23.5,1.0),(24,0.9),(24.5,0.8),(25,0.7),(26,0.65)]
Lm25_e10 = [(13.3,0.0),(13.6,0.6),(14,1.0),(14.5,1.2),(15,1.3),(15.5,1.2),(16,1.2),(16.5,1.1),(17,1.0),(17.5,0.9),(18,0.8),(18.5,0.7),(19,0.6),(19.5,0.5),(20,0.4),(21,0.3),(22,0.2),(23,0.15),(24,0.1),(25,0.05),(26,0.05)]
Lm25_e25 = [(13.0,0.0),(13.5,1.0),(14,1.6),(14.5,1.8),(15,1.9),(15.5,1.9),(16,1.8),(16.5,1.7),(17,1.6),(17.5,1.5),(18,1.4),(18.5,1.2),(19,1.1),(19.5,1.0),(20,0.8),(20.5,0.7),(21,0.6),(21.5,0.5),(22,0.4),(23,0.3),(24,0.2),(25,0.15),(26,0.1),(27,0.05),(28,0.05)]
Lm25_e30 = [(13.2,0.0),(13.6,1.0),(14,1.5),(14.5,1.8),(15,2.0),(15.5,2.0),(16,2.0),(16.5,1.9),(17,1.8),(17.5,1.7),(18,1.6),(18.5,1.5),(19,1.4),(19.5,1.2),(20,1.1),(20.5,1.0),(21,0.9),(21.5,0.8),(22,0.7),(22.5,0.6),(23,0.5),(24,0.35),(25,0.25),(26,0.2),(27,0.15),(28,0.1)]

# right, x=-25m
Rm25_n10 = [(5,0),(14.5,0),(14.6,0.7),(15,0.8),(15.5,0.7),(15.8,0.6),(16.0,0.0),(16.5,0.0),(16.8,0.6),(17.2,0.6),(17.5,0.0),(18.3,0.0),(18.6,0.9),(19,0.8),(19.5,0.7),(20,0.7),(20.5,0.5),(20.8,0.1),(21.0,0.0)]
Rm25_n25 = [(5,0),(11.2,0),(11.4,1.2),(11.6,1.3),(11.8,0.9),(12.2,0.6),(12.6,0.7),(13,0.6),(13.5,0.6),(14,0.6),(14.5,0.7),(15,0.8),(15.5,0.8),(16,0.8),(16.5,0.7),(17,0.7),(17.5,0.7),(18,0.6),(18.5,0.6),(19,0.6),(19.5,0.6),(20,0.6),(20.5,0.5),(21,0.4),(21.5,0.6),(22,1.1),(22.3,0.8),(22.7,0.3),(23.0,0.0),(23.2,0.4),(23.5,0.3),(24,0.4)]
Rm25_n30 = [(5,0),(11.2,0),(11.3,1.0),(11.5,1.5),(11.8,1.4),(12,1.3),(12.5,1.2),(13,1.4),(13.5,1.2),(14,1.1),(14.5,1.2),(15,1.4),(15.5,1.2),(16,1.0),(16.5,1.1),(17,1.1),(17.5,1.0),(18,1.0),(18.5,0.9),(19,0.8),(19.5,0.8),(20,0.7),(20.5,0.6),(21,0.6),(22,0.6),(23,0.5),(24,0.5),(25,0.5),(26,0.55),(27,0.5),(28,0.5),(29,0.5),(30,0.5)]
Rm25_e10 = [(8.8,1.4),(9.3,1.6),(9.8,1.8),(10.3,2.2),(10.5,3.4),(10.7,2.5),(11,2.0),(11.5,1.9),(12,1.8),(12.5,1.8),(13,1.9),(13.5,1.7),(14,1.7),(14.5,1.6),(15,1.7),(15.5,1.6),(16,1.5),(17,1.5),(18,1.5),(19,1.5),(20,1.5)]
Rm25_e25 = [(8.8,1.5),(9.3,1.7),(9.8,1.9),(10.3,2.1),(10.8,2.3),(11.3,2.1),(11.8,2.0),(12.3,1.9),(12.8,2.1),(13.3,2.0),(13.8,1.8),(14.3,1.9),(14.8,1.8),(15.3,1.7),(16,1.6),(17,1.5),(18,1.5),(19,1.5),(20,1.5)]
Rm25_e30 = [(8.8,1.5),(9.3,1.7),(9.8,1.9),(10.3,2.1),(10.8,2.2),(11.3,2.1),(11.8,2.1),(12.3,2.0),(12.8,2.1),(13.3,2.1),(13.8,2.0),(14.3,2.0),(14.8,1.9),(15.3,1.8),(16,1.7),(17,1.6),(18,1.6),(19,1.5),(20,1.5)]

row_labels = ['x=25m', 'x=15m', 'x=5m', 'x=0m', 'x=-5m', 'x=-15m', 'x=-25m']
series_labels = ['y=10m', 'y=25m', 'y=30m']

left_series = [
    [L25_n10, L25_n25, L25_n30, L25_e10, L25_e25, L25_e30],
    [L15_n10, L15_n25, L15_n30, L15_e10, L15_e25, L15_e30],
    [L5_n10, L5_n25, L5_n30, L5_e10, L5_e25, L5_e30],
    [L0_n10, L0_n25, L0_n30, L0_e10, L0_e25, L0_e30],
    [Lm5_n10, Lm5_n25, Lm5_n30, Lm5_e10, Lm5_e25, Lm5_e30],
    [Lm15_n10, Lm15_n25, Lm15_n30, Lm15_e10, Lm15_e25, Lm15_e30],
    [Lm25_n10, Lm25_n25, Lm25_n30, Lm25_e10, Lm25_e25, Lm25_e30],
]
right_series = [
    [R25_n10, R25_n25, R25_n30, R25_e10, R25_e25, R25_e30],
    [R15_n10, R15_n25, R15_n30, R15_e10, R15_e25, R15_e30],
    [R5_n10, R5_n25, R5_n30, R5_e10, R5_e25, R5_e30],
    [R0_n10, R0_n25, R0_n30, R0_e10, R0_e25, R0_e30],
    [Rm5_n10, Rm5_n25, Rm5_n30, Rm5_e10, Rm5_e25, Rm5_e30],
    [Rm15_n10, Rm15_n25, Rm15_n30, Rm15_e10, Rm15_e25, Rm15_e30],
    [Rm25_n10, Rm25_n25, Rm25_n30, Rm25_e10, Rm25_e25, Rm25_e30],
]

# dashed circles drawn on some panels: (column, row, centre t, centre eta, width, height, colour)
circles = [
    ('R', 2, 7.1, 2.4, 3.5, 3.7, '#1f3f66'),
    ('R', 3, 8.25, 6.25, 3.5, 3.7, '#1f3f66'),
    ('L', 3, 8.9, 0.7, 3.6, 3.6, '#bf9000'),
    ('L', 3, 17.45, 2.7, 3.5, 3.65, '#bf9000'),
    ('L', 5, 13.1, 2.3, 3.7, 3.7, '#bf9000'),
]

# ---- layout (reference pixel positions) ----
W, H = 1168, 1604
left_tops = [39, 268, 493, 718, 949, 1177, 1406]
right_tops = [35, 268, 496, 724, 955, 1183, 1406]
ax_h = 149
left_x, right_x, ax_w = 63, 667, 486

NUM_COLORS = ['#00b050', '#000000', '#ff0000']
EXP_COLORS = ['#3dba72', '#4a4a4a', '#ff5a5a']
DASH = (0, (4.5, 2.5))
LEG_DASH = (0, (6.5, 10))

sns.set_style("white")
plt.rcParams['font.family'] = ['Liberation Serif', 'Noto Sans CJK JP', 'DejaVu Sans']
plt.rcParams['lines.scale_dashes'] = False

fig = plt.figure(figsize=(W / 100, H / 100), dpi=100)


def draw_line(ax, pts, color, lw, ls='-'):
    df = pd.DataFrame(pts, columns=['t', 'h'])
    sns.lineplot(data=df, x='t', y='h', ax=ax, color=color, lw=lw, linestyle=ls,
                 estimator=None, sort=False, legend=False)


def make_panel(x0, top, series, label):
    ax = fig.add_axes([x0 / W, 1 - (top + ax_h) / H, ax_w / W, ax_h / H])
    for pts, col in zip(series[3:], EXP_COLORS):
        draw_line(ax, pts, col, 3.2, DASH)
        draw_line(ax, pts, 'white', 1.0, DASH)
    for pts, col in zip(series[:3], NUM_COLORS):
        draw_line(ax, pts, col, 2.3)

    ax.set_xlim(5, 30)
    ax.set_ylim(0, 8)
    ax.xaxis.set_major_locator(MultipleLocator(5))
    ax.xaxis.set_minor_locator(MultipleLocator(1))
    ax.yaxis.set_major_locator(MultipleLocator(2))
    ax.yaxis.set_minor_locator(MultipleLocator(1))
    ax.grid(which='minor', color='#d4d4d4', lw=0.9)
    ax.grid(which='major', axis='x', color='#d4d4d4', lw=0.9)
    ax.grid(which='major', axis='y', color='#a0a0a0', lw=1.1)
    ax.set_axisbelow(True)
    ax.tick_params(which='both', length=0, labelsize=12, pad=10)
    for sp in ax.spines.values():
        sp.set_color('#5a5a5a')
        sp.set_linewidth(1.0)

    ax.set_xlabel('time(sec)', fontsize=15)
    ax.xaxis.set_label_coords(0.5, -0.235)
    ax.xaxis.label.set_va('center')
    ax.set_ylabel('水位変動η(m)', fontsize=17, fontweight='bold')
    ax.yaxis.set_label_coords(-0.088, 0.5)
    ax.yaxis.label.set_va('center')

    box = AnchoredText(label, loc='upper left', borderpad=0, pad=0.42,
                       prop=dict(size=15.5), frameon=True)
    box.patch.set_edgecolor('black')
    box.patch.set_linewidth(1.4)
    box.zorder = 5
    ax.add_artist(box)

    ax.text(0.74, 1.11, 'Num.', transform=ax.transAxes, fontsize=13, fontweight='bold',
            ha='center', va='center')
    ax.text(0.915, 1.11, 'Exp.', transform=ax.transAxes, fontsize=13, fontweight='bold',
            ha='center', va='center')

    num_h = [Line2D([], [], color=c, lw=2.8) for c in NUM_COLORS]
    exp_h = [(Line2D([], [], color=c, lw=3.2, linestyle=LEG_DASH),
              Line2D([], [], color='white', lw=1.0, linestyle=LEG_DASH)) for c in EXP_COLORS]
    leg = ax.legend(num_h + exp_h, series_labels * 2, ncol=2, loc='upper right',
                    bbox_to_anchor=(1, 1), borderaxespad=0, fontsize=7.5,
                    frameon=True, fancybox=False, edgecolor='black', framealpha=1,
                    handlelength=4.4, handletextpad=0.2, columnspacing=1.4,
                    labelspacing=0.95, borderpad=0.7)
    leg.get_frame().set_linewidth(0.9)
    return ax


axes = {}
for i, label in enumerate(row_labels):
    axes[('L', i)] = make_panel(left_x, left_tops[i], left_series[i], label)
    axes[('R', i)] = make_panel(right_x, right_tops[i], right_series[i], label)

for col, row, cx, cy, w, h, c in circles:
    axes[(col, row)].add_patch(Ellipse((cx, cy), w, h, fill=False, ec=c, lw=2.6,
                                       linestyle=(0, (5, 3.5)), clip_on=False, zorder=6))

fig.savefig('out.png', dpi=100)
